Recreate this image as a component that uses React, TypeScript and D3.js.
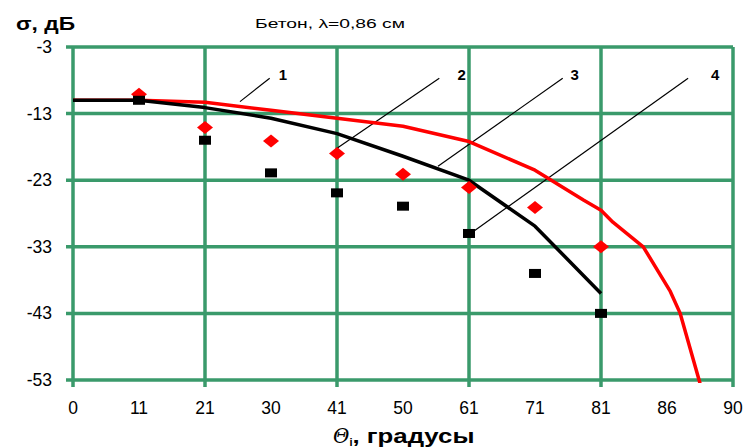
import * as d3 from "d3";
import React from "react";

// category labels on the x axis (evenly spaced, Excel-style category axis)
const xLabels = ["0", "11", "21", "30", "41", "50", "61", "71", "81", "86", "90"];
const yTicks = [-3, -13, -23, -33, -43, -53];

// curve 1 (red line) — x given as category index position
const redLineX = [0, 1, 2, 3, 4, 5, 6, 7, 7.74, 8, 8.18, 8.64, 9.05, 9.2, 9.5];
const redLineY = [-11, -11, -11.3, -12.5, -13.7, -14.9, -17.2, -21.5, -26, -27.5, -29.3, -33, -39.7, -43, -53.5];

// curve 3 (black line)
const blackLineX = [0, 1, 2, 3, 4, 5, 6, 7, 8];
const blackLineY = [-11, -11, -12.1, -13.7, -16, -19.4, -23, -29.9, -40];

// measured points
const diamondX = [1, 2, 3, 4, 5, 6, 7, 8];
const diamondY = [-10.1, -15.1, -17.1, -19, -22.1, -24.1, -27.1, -33];
const squareX = [1, 2, 3, 4, 5, 6, 7, 8];
const squareY = [-11, -17, -21.9, -24.9, -26.9, -31, -37, -43];

// leader labels: [text, label x index, line top x index, target x index, target y value]
const leaders: [string, number, number, number, number][] = [
  ["1", 3.18, 2.98, 2.53, -11.2],
  ["2", 5.89, 5.55, 4, -18.2],
  ["3", 7.6, 7.42, 5.53, -20.9],
  ["4", 9.73, 9.32, 6.05, -30.8],
];
const leaderTop = -7.7;

const W = 749, H = 448;
const m = { l: 73, r: 16, t: 47, b: 68 };
const green = "#3a9a6b";
const font = "Arial, 'Liberation Sans', sans-serif";

export default function App() {
  const x = d3.scaleLinear([0, xLabels.length - 1], [m.l, W - m.r]);
  const y = d3.scaleLinear([-53, -3], [H - m.b, m.t]);
  const line = d3.line<[number, number]>().x(d => x(d[0])).y(d => y(d[1]));
  const red = redLineX.map((v, i) => [v, redLineY[i]] as [number, number]);
  const black = blackLineX.map((v, i) => [v, blackLineY[i]] as [number, number]);
  const gridIdx = xLabels.map((_, i) => i).filter(i => i % 2 === 0 || i === xLabels.length - 1);

  return (
    <svg width={W} height={H} style={{ position: "absolute", left: 0, top: 0 }} fontFamily={font}>
      <rect width={W} height={H} fill="white" />
      <defs>
        <clipPath id="plot">
          <rect x={m.l} y={m.t - 2} width={W - m.l - m.r} height={H - m.t - m.b + 5} />
        </clipPath>
      </defs>
      {/* grid */}
      {yTicks.map(t => (
        <line key={"h" + t} x1={m.l - 7} x2={W - m.r} y1={y(t)} y2={y(t)} stroke={green} strokeWidth={3.5} />
      ))}
      {gridIdx.map(i => (
        <line key={"v" + i} x1={x(i)} x2={x(i)} y1={m.t} y2={H - m.b + 7} stroke={green} strokeWidth={3.5} />
      ))}
      {/* tick labels */}
      {yTicks.map(t => (
        <text key={"yl" + t} x={m.l - 21} y={y(t) + 6} textAnchor="end" fontSize={17.5}>{t}</text>
      ))}
      {xLabels.map((l, i) => (
        <text key={"xl" + i} x={x(i)} y={H - m.b + 34} textAnchor="middle" fontSize={17.5}>{l}</text>
      ))}
      {/* leader lines */}
      {leaders.map(([t, lx, topx, tx, ty]) => (
        <g key={"ld" + t}>
          <line x1={x(topx)} y1={y(leaderTop)} x2={x(tx)} y2={y(ty)} stroke="black" strokeWidth={1.2} />
          <text x={x(lx)} y={y(leaderTop) + 1.5} fontSize={15} fontWeight="bold" textAnchor="middle">{t}</text>
        </g>
      ))}
      <g clipPath="url(#plot)">
        <path d={line(red) ?? ""} fill="none" stroke="#ff0000" strokeWidth={3.5} strokeLinejoin="round" />
        <path d={line(black) ?? ""} fill="none" stroke="black" strokeWidth={3.5} strokeLinejoin="round" />
      </g>
      {diamondX.map((v, i) => (
        <path key={"d" + i} d="M0,-6.5L8,0L0,6.5L-8,0Z" transform={`translate(${x(v)},${y(diamondY[i])})`} fill="#ff0000" />
      ))}
      {squareX.map((v, i) => (
        <rect key={"s" + i} x={x(v) - 6} y={y(squareY[i]) - 4.5} width={12} height={9} fill="black" />
      ))}
      {/* titles */}
      <text x={16} y={30} fontSize={18} fontWeight="bold" textLength={59} lengthAdjust="spacingAndGlyphs">σ, дБ</text>
      <text x={255} y={28} fontSize={12.5} textLength={150} lengthAdjust="spacingAndGlyphs">Бетон, λ=0,86 см</text>
      <text x={333} y={443} fontSize={20} fontWeight="bold">
        <tspan fontStyle="italic" fontWeight="normal" fontFamily="'DejaVu Serif', serif">Θ</tspan>
        <tspan fontSize={11} dy={3}>i</tspan>
        <tspan dy={-3} textLength={122} lengthAdjust="spacingAndGlyphs">, градусы</tspan>
      </text>
    </svg>
  );
}
